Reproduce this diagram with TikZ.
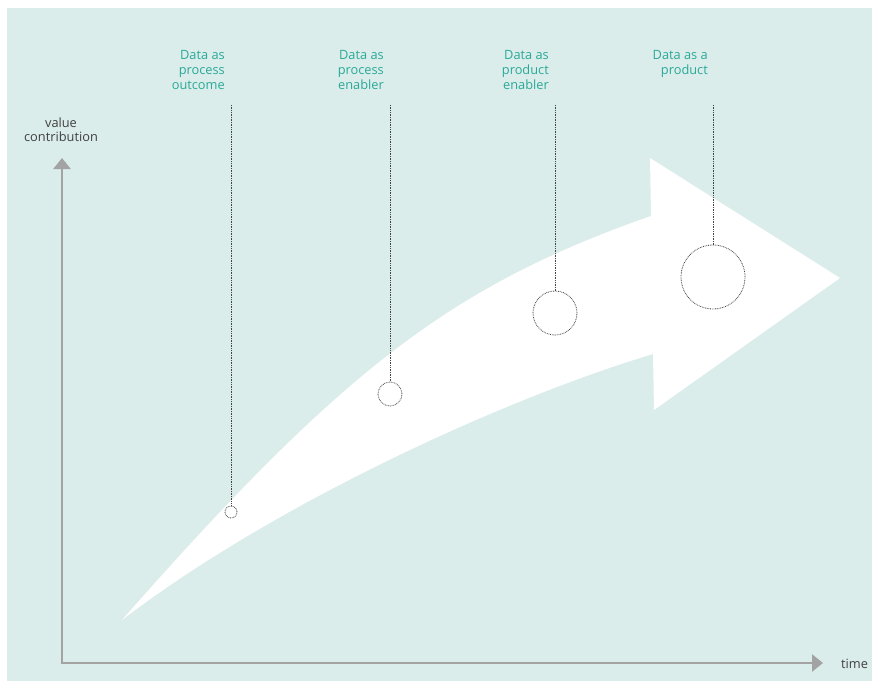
\documentclass[tikz,border=0pt]{standalone}
\usepackage{fontspec}
\setmainfont{Open Sans}
\usetikzlibrary{arrows.meta}
\definecolor{bgteal}{HTML}{DAEDEA}
\definecolor{labteal}{HTML}{2AA898}
\definecolor{axisgray}{HTML}{A3A3A3}
\definecolor{dotgray}{HTML}{444444}
\begin{document}
\begin{tikzpicture}[x=1pt,y=-1pt,
  lab/.style={text=labteal,font=\fontsize{12.8}{15}\selectfont,align=right,anchor=base east,inner sep=0pt},
  axlab/.style={text=black!75,font=\fontsize{12.8}{14}\selectfont,align=center,inner sep=0pt},
  axis/.style={draw=axisgray,line width=2.6pt,-{Triangle[length=11pt,width=17pt]}},
  dotline/.style={draw=dotgray,line width=0.8pt,dash pattern=on 0.8pt off 0.9pt},
  ring/.style={circle,draw=dotgray,line width=0.8pt,dash pattern=on 0.8pt off 0.9pt,fill=white,inner sep=0pt}]
\useasboundingbox (0,0) rectangle (872,681);
\fill[bgteal] (7,8) rectangle (872,681);
% big arrow
\fill[white] (122,620) .. controls (342,370) and (451,286) .. (651,216) -- (650,158) -- (840,278) -- (654,410) -- (653,354) .. controls (503,399) and (272,505) .. (122,620) -- cycle;
% axes
\coordinate (o) at (62,663);
\coordinate (ytop) at (62,158);
\coordinate (xend) at (823,663);
\draw[axis] (o) -- (ytop);
\draw[axis] ([xshift=-1.3pt]o) -- (xend);
\node[axlab,anchor=base] (vc) at (61,141) {value\\contribution};
\node[axlab,anchor=base west] (tm) at (841,668) {time};
% labels (base = last line)
\node[lab] (l1) at (225,89) {Data as\\process\\outcome};
\node[lab] (l2) at (384,89) {Data as\\process\\enabler};
\node[lab] (l3) at (549,89) {Data as\\product\\enabler};
\node[lab] (l4) at (708,74) {Data as a\\product};
% circles
\node[ring,minimum size=12pt] (c1) at (231,512) {};
\node[ring,minimum size=24pt] (c2) at (390,394) {};
\node[ring,minimum size=44pt] (c3) at (555,313) {};
\node[ring,minimum size=64pt] (c4) at (713,277) {};
\coordinate (t1) at (231,105);
\coordinate (t2) at (390,105);
\coordinate (t3) at (555,105);
\coordinate (t4) at (713,105);
\draw[dotline] (t1) -- (c1.north);
\draw[dotline] (t2) -- (c2.north);
\draw[dotline] (t3) -- (c3.north);
\draw[dotline] (t4) -- (c4.north);
\end{tikzpicture}
\end{document}
